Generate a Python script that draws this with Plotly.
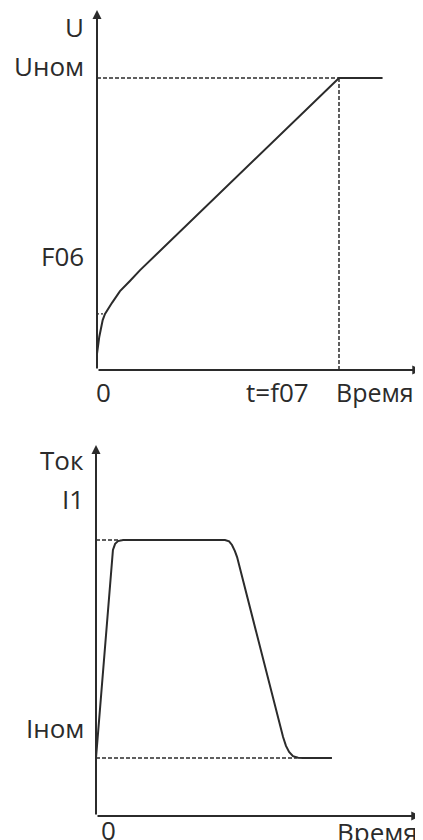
import plotly.graph_objects as go

# ---------------- data ----------------
# top chart: voltage vs time (t=f07 -> 10 units, Uном -> 100 units)
u_time = [0, 0.095, 0.235, 0.33, 0.62, 0.95, 1.36, 1.78, 10, 11.8]
u_value = [5.5, 11.4, 17.1, 19.2, 23.0, 27.0, 30.5, 34.2, 100, 100]
u_nom = 100
u_knee_t = 0.33
u_knee_v = 19.2
t_f07 = 10
u_axis_top = 123.3
t_axis_end = 13.4

# bottom chart: current vs time (I1 -> 100 units, Iном -> 21 units)
i_time = [0, 0.70, 0.79, 0.91, 1.12, 5.33, 5.50, 5.62, 5.74, 5.83,
          7.73, 7.85, 7.98, 8.14, 8.35, 8.55, 9.75]
i_value = [21, 96.4, 98.6, 99.6, 100, 100, 99.5, 98.2, 96.0, 93.8,
           28.6, 25.4, 23.2, 21.7, 21.1, 21, 21]
i_1 = 100
i_nom = 21
i_dash1_end = 1.0
i_dash2_end = 8.3
i_axis_top = 134.4
t2_axis_end = 13.4

top_labels = ["U", "Uном", "F06"]
top_label_y = [117.5, 104.1, 39.0]
bottom_labels = ["Ток", "I1", "Iном"]
bottom_label_y = [129.0, 114.9, 31.9]
x_tick_top = ["0", "t=f07", "Время"]
x_tick_bottom = ["0", "Время"]

INK = "#2b2b2b"
FONT = "Open Sans"
FSIZE = 26

fig = go.Figure()

# ---- top chart ----
fig.add_trace(go.Scatter(x=[0, t_f07], y=[u_nom, u_nom], mode="lines",
                         line=dict(color=INK, width=1.5, dash="4px,2px"),
                         xaxis="x", yaxis="y", hoverinfo="skip"))
fig.add_trace(go.Scatter(x=[t_f07, t_f07], y=[0, u_nom], mode="lines",
                         line=dict(color=INK, width=1.5, dash="4px,2px"),
                         xaxis="x", yaxis="y", hoverinfo="skip"))
fig.add_trace(go.Scatter(x=[0, u_knee_t], y=[u_knee_v, u_knee_v], mode="lines",
                         line=dict(color=INK, width=1.2, dash="2px,2px"),
                         xaxis="x", yaxis="y", hoverinfo="skip"))
fig.add_trace(go.Scatter(x=u_time, y=u_value, mode="lines",
                         line=dict(color=INK, width=2),
                         xaxis="x", yaxis="y", hoverinfo="skip"))

# ---- bottom chart ----
fig.add_trace(go.Scatter(x=[0, i_dash1_end], y=[i_1, i_1], mode="lines",
                         line=dict(color=INK, width=1.5, dash="4px,2px"),
                         xaxis="x2", yaxis="y2", hoverinfo="skip"))
fig.add_trace(go.Scatter(x=[0, i_dash2_end], y=[i_nom, i_nom], mode="lines",
                         line=dict(color=INK, width=1.5, dash="4px,2px"),
                         xaxis="x2", yaxis="y2", hoverinfo="skip"))
fig.add_trace(go.Scatter(x=i_time, y=i_value, mode="lines",
                         line=dict(color=INK, width=2),
                         xaxis="x2", yaxis="y2", hoverinfo="skip"))

ann = []
def arrow(xr, yr, x0, y0, x1, y1):
    ann.append(dict(x=x1, y=y1, ax=x0, ay=y0, xref=xr, yref=yr,
                    axref=xr, ayref=yr, showarrow=True, arrowhead=2,
                    arrowsize=0.9, arrowwidth=2, arrowcolor=INK, text=""))

arrow("x", "y", 0, 0, 0, u_axis_top)
arrow("x", "y", 0, 0, t_axis_end, 0)
arrow("x2", "y2", 0, 0, 0, i_axis_top)
arrow("x2", "y2", 0, 0, t2_axis_end, 0)

def label(xr, yr, x, y, text, xanchor, size=FSIZE):
    ann.append(dict(x=x, y=y, xref=xr, yref=yr, text=text, showarrow=False,
                    xanchor=xanchor, yanchor="middle",
                    font=dict(family=FONT, size=size, color=INK)))

for t, y in zip(top_labels, top_label_y):
    label("x", "y", -0.45, y, t, "right")
for t, y in zip(bottom_labels, bottom_label_y):
    label("x2", "y2", -0.41, y, t, "right")

label("x", "y", 0.25, -7.5, x_tick_top[0], "center")
label("x", "y", 7.44, -7.5, x_tick_top[1], "center")
label("x", "y", 9.8, -7.5, x_tick_top[2], "left", 25)
label("x2", "y2", 0.5, -5.1, x_tick_bottom[0], "center")
label("x2", "y2", 9.88, -5.8, x_tick_bottom[1], "left")

# the page body adds an 8px offset; compensate by mapping origins 8px earlier
OFF = 8
hidden = dict(visible=False, showgrid=False, zeroline=False, fixedrange=True)
fig.update_layout(
    width=423, height=840,
    margin=dict(l=0, r=0, t=0, b=0),
    paper_bgcolor="white", plot_bgcolor="white",
    showlegend=False,
    xaxis=dict(domain=[0, 1], range=[-(97 - OFF) / 24.2, (423 - 97 + OFF) / 24.2],
               anchor="y", **hidden),
    yaxis=dict(domain=[0.5, 1], range=[-(420 - 370 + OFF) / 2.92, (370 - OFF) / 2.92],
               anchor="x", **hidden),
    xaxis2=dict(domain=[0, 1], range=[-(96 - OFF) / 24.2, (423 - 96 + OFF) / 24.2],
                anchor="y2", **hidden),
    yaxis2=dict(domain=[0, 0.5], range=[-(840 - 816 + OFF) / 2.76, (816 - 420 - OFF) / 2.76],
                anchor="x2", **hidden),
    annotations=ann,
)

fig.write_html("out.html")
